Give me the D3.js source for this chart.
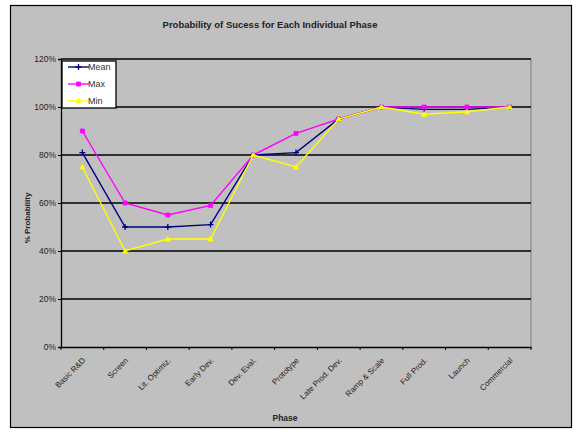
<!DOCTYPE html>
<html>
<head>
<meta charset="utf-8">
<script src="https://cdn.jsdelivr.net/npm/d3@7"></script>
<style>
  html, body { margin: 0; padding: 0; background: #fff; }
  svg { display: block; font-family: "Liberation Sans", Arial, sans-serif; }
</style>
</head>
<body>
<svg id="chart" width="582" height="435"></svg>
<script>
// Phases and success probabilities (%)
const phases = ["Basic R&D", "Screen", "Lit. Optimiz.", "Early Dev.", "Dev. Eval.", "Prototype",
                "Late Prod. Dev.", "Ramp & Scale", "Full Prod.", "Launch", "Commercial"];
const meanValues = [81, 50, 50, 51, 80, 81, 95, 100, 99, 99, 100];
const maxValues  = [90, 60, 55, 59, 80, 89, 95, 100, 100, 100, 100];
const minValues  = [75, 40, 45, 45, 80, 75, 95, 100, 97, 98, 100];
const yTicks = [0, 20, 40, 60, 80, 100, 120];

const seriesList = [
  { name: "Mean", values: meanValues, color: "#000080", marker: "plus" },
  { name: "Max",  values: maxValues,  color: "#ff00ff", marker: "square" },
  { name: "Min",  values: minValues,  color: "#ffff00", marker: "triangle" }
];

const svg = d3.select("#chart");
const bg = "#c0c0c0";

// chart area frame
svg.append("rect").attr("x", 10.5).attr("y", 5.5).attr("width", 561).attr("height", 422)
  .attr("fill", bg).attr("stroke", "#000").attr("stroke-width", 1.2);

const plot = { left: 61, right: 531, top: 59, bottom: 347 };

const x = d3.scalePoint().domain(phases).range([plot.left, plot.right]).padding(0.5);
const y = d3.scaleLinear().domain([0, 120]).range([plot.bottom, plot.top]);

// plot area right border
svg.append("line").attr("x1", plot.right).attr("x2", plot.right)
  .attr("y1", plot.top).attr("y2", plot.bottom).attr("stroke", "#8a8a8a").attr("stroke-width", 1.2);

// horizontal gridlines
svg.append("g").selectAll("line").data(yTicks.filter(d => d > 0)).join("line")
  .attr("x1", plot.left).attr("x2", plot.right)
  .attr("y1", d => y(d)).attr("y2", d => y(d))
  .attr("stroke", "#000").attr("stroke-width", 1.3);

// y axis
const yAxis = d3.axisLeft(y).tickValues(yTicks).tickFormat(d => d + "%").tickSize(3).tickPadding(2);
const gy = svg.append("g").attr("transform", `translate(${plot.left},0)`).call(yAxis);
gy.select(".domain").attr("stroke", "#000").attr("stroke-width", 1.3);
gy.selectAll(".tick line").attr("stroke", "#000");
gy.selectAll("text").attr("font-size", 8.5).attr("fill", "#222");

// x axis
const band = (plot.right - plot.left) / phases.length;
const xAxis = d3.axisBottom(x).tickSize(0).tickPadding(0);
const gx = svg.append("g").attr("transform", `translate(0,${plot.bottom})`).call(xAxis);
gx.select(".domain").attr("stroke", "#000").attr("stroke-width", 1.3);
// category boundary ticks
svg.append("g").selectAll("line").data(d3.range(phases.length + 1)).join("line")
  .attr("x1", i => plot.left + i * band).attr("x2", i => plot.left + i * band)
  .attr("y1", plot.bottom).attr("y2", plot.bottom + 3)
  .attr("stroke", "#000");
gx.selectAll("text")
  .attr("font-size", 8).attr("fill", "#222")
  .attr("text-anchor", "end")
  .attr("transform", "translate(3,14) rotate(-45)")
  .attr("dy", "0");

// lines and markers
const line = d3.line().x((d, i) => x(phases[i])).y(d => y(d));
const markerPath = {
  plus: "M-3,0H3M0,-3V3",
  square: "M-2,-2H2V2H-2Z",
  triangle: "M0,-2.6L2.6,2L-2.6,2Z"
};

seriesList.forEach(s => {
  svg.append("path").datum(s.values).attr("d", line)
    .attr("fill", "none").attr("stroke", s.color).attr("stroke-width", 1.4);
  svg.append("g").selectAll("path").data(s.values).join("path")
    .attr("transform", (d, i) => `translate(${x(phases[i])},${y(d)})`)
    .attr("d", markerPath[s.marker])
    .attr("fill", s.color).attr("stroke", s.color).attr("stroke-width", s.marker === "plus" ? 1.3 : 0.8);
});

// legend
const lg = svg.append("g").attr("transform", "translate(62,61)");
lg.append("rect").attr("width", 54).attr("height", 47).attr("fill", "#fff").attr("stroke", "#000").attr("stroke-width", 1.3);
seriesList.forEach((s, i) => {
  const yy = 6 + i * 17;
  lg.append("line").attr("x1", 6).attr("x2", 27).attr("y1", yy).attr("y2", yy)
    .attr("stroke", s.color).attr("stroke-width", 1.4);
  lg.append("path").attr("transform", `translate(16.5,${yy})`).attr("d", markerPath[s.marker])
    .attr("fill", s.color).attr("stroke", s.color).attr("stroke-width", s.marker === "plus" ? 1.3 : 0.8);
  lg.append("text").attr("x", 26).attr("y", yy + 3).attr("font-size", 9).attr("fill", "#333").text(s.name);
});

// titles
svg.append("text").attr("x", 270).attr("y", 28).attr("text-anchor", "middle")
  .attr("font-size", 9.5).attr("font-weight", "bold").attr("fill", "#222")
  .text("Probability of Sucess for Each Individual Phase");
svg.append("text").attr("x", 285).attr("y", 421).attr("text-anchor", "middle")
  .attr("font-size", 8.5).attr("font-weight", "bold").attr("fill", "#222").text("Phase");
svg.append("text").attr("transform", "translate(30,218) rotate(-90)").attr("text-anchor", "middle")
  .attr("font-size", 8).attr("font-weight", "bold").attr("fill", "#222").text("% Probability");
</script>
</body>
</html>
